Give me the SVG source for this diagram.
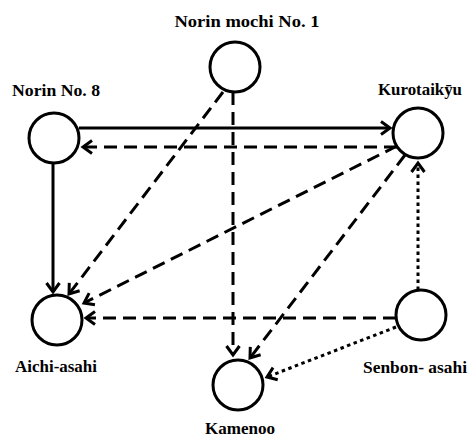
<svg xmlns="http://www.w3.org/2000/svg" width="468" height="438" viewBox="0 0 468 438">
  <style>
    .node circle { fill: #fff; stroke: #000; stroke-width: 3; }
    .lbl { font-family: "Liberation Serif", "DejaVu Serif", serif; font-size: 17px; font-weight: 700; fill: #000; text-anchor: middle; }
    .edge { fill: none; stroke: #000; stroke-width: 3; }
    .dash { stroke-dasharray: 13 7; }
    .dot { stroke-dasharray: 3.5 3.5; }
  </style>
  <defs>
    <marker id="chev" markerUnits="userSpaceOnUse" markerWidth="20" markerHeight="20" viewBox="-12 -10 14 20" refX="0" refY="0" orient="auto">
      <path d="M-9,-6.5 L0,0 L-9,6.5" fill="none" stroke="#000" stroke-width="3" stroke-dasharray="none" stroke-linejoin="miter"/>
    </marker>
  </defs>
  <rect width="468" height="438" fill="#fff"/>

  <g id="connectors">
    <!-- solid -->
    <line class="edge" x1="79" y1="128" x2="390" y2="128" marker-end="url(#chev)"/>
    <line class="edge" x1="53" y1="163" x2="53" y2="292" marker-end="url(#chev)"/>
    <!-- dashed -->
    <line class="edge dash" x1="397" y1="147" x2="83" y2="147" marker-end="url(#chev)"/>
    <line class="edge dash" x1="223" y1="92" x2="69" y2="294" marker-end="url(#chev)"/>
    <line class="edge dash" x1="233" y1="92" x2="233" y2="355" marker-end="url(#chev)"/>
    <line class="edge dash" x1="397" y1="146" x2="84" y2="303" marker-end="url(#chev)"/>
    <line class="edge dash" x1="405" y1="155" x2="250" y2="358" marker-end="url(#chev)"/>
    <line class="edge dash" x1="396" y1="318" x2="86" y2="318" marker-end="url(#chev)"/>
    <!-- dotted -->
    <line class="edge dot" x1="418" y1="290" x2="418" y2="163" marker-end="url(#chev)"/>
    <line class="edge dot" x1="396" y1="327" x2="267" y2="377" marker-end="url(#chev)"/>
  </g>

  <g id="norin-mochi-1" class="node">
    <circle cx="235" cy="67" r="25"/>
    <text class="lbl" x="247" y="27" textLength="145" lengthAdjust="spacingAndGlyphs">Norin  mochi No. 1</text>
  </g>
  <g id="norin-8" class="node">
    <circle cx="54" cy="138" r="25"/>
    <text class="lbl" x="56" y="96" textLength="88" lengthAdjust="spacingAndGlyphs">Norin No. 8</text>
  </g>
  <g id="kurotaikyu" class="node">
    <circle cx="418" cy="133" r="25"/>
    <text class="lbl" x="420" y="95" textLength="84" lengthAdjust="spacingAndGlyphs">Kurotaikȳu</text>
  </g>
  <g id="aichi-asahi" class="node">
    <circle cx="57" cy="320" r="25"/>
    <text class="lbl" x="56" y="372" textLength="82" lengthAdjust="spacingAndGlyphs">Aichi-asahi</text>
  </g>
  <g id="senbon-asahi" class="node">
    <circle cx="421" cy="315" r="25"/>
    <text class="lbl" x="415" y="373" textLength="104" lengthAdjust="spacingAndGlyphs">Senbon- asahi</text>
  </g>
  <g id="kamenoo" class="node">
    <circle cx="238" cy="385" r="25"/>
    <text class="lbl" x="240" y="434" textLength="70" lengthAdjust="spacingAndGlyphs">Kamenoo</text>
  </g>
</svg>
